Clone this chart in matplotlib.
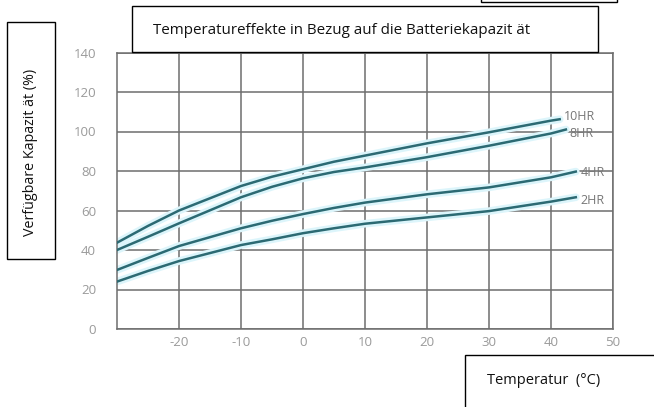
import matplotlib
matplotlib.use('Agg')
import matplotlib.pyplot as plt
from matplotlib.patches import Rectangle

# ── Data ────────────────────────────────────────────────────────────────
temps = [-30, -25, -20, -10, -5, 0, 5, 10, 20, 30, 40]

cap_10hr = [43.7, 52.2, 60.0, 72.4, 77.1, 80.9, 84.7, 87.8, 94.0, 99.6, 105.5]
cap_8hr  = [40.0, 46.7, 53.5, 66.7, 72.0, 76.3, 79.5, 81.8, 87.0, 92.8, 99.0]
cap_4hr  = [29.9, 36.0, 42.0, 51.0, 54.8, 58.2, 61.3, 64.0, 68.2, 71.7, 76.8]
cap_2hr  = [24.0, 29.4, 34.4, 42.5, 45.4, 48.5, 51.0, 53.3, 56.5, 59.7, 64.5]

# last segment of each curve runs a bit past 40 °C
end_temp = [41.4, 42.4, 44.0, 44.0]
end_cap  = [106.2, 101.0, 79.7, 66.7]

series_names = ['10HR', '8HR', '4HR', '2HR']
label_pos = [(42.1, 107.8), (43.0, 99.0), (44.8, 79.0), (44.7, 65.3)]

xticks = [-20, -10, 0, 10, 20, 30, 40, 50]
yticks = [0, 20, 40, 60, 80, 100, 120, 140]

title = 'Temperatureffekte in Bezug auf die Batteriekapazit ät'
ylabel = 'Verfügbare Kapazit ät (%)'
xlabel = 'Temperatur  (°C)'

# ── Figure ──────────────────────────────────────────────────────────────
W, H = 654, 407
plt.rcParams['font.family'] = ['Open Sans', 'DejaVu Sans']
plt.rcParams['axes.unicode_minus'] = False
fig = plt.figure(figsize=(W / 100, H / 100), dpi=100)
ax = fig.add_axes([117 / W, 1 - 329 / H, (613 - 117) / W, (329 - 52.5) / H])

grid_col = '#6e6e6e'
line_col = '#2c6a73'
glow_col = '#dcf5fb'

all_series = [cap_10hr, cap_8hr, cap_4hr, cap_2hr]
for vals, xe, ye in zip(all_series, end_temp, end_cap):
    ax.plot(temps + [xe], vals + [ye], color=glow_col, lw=5.5,
            solid_capstyle='round', solid_joinstyle='round', zorder=2)
for vals, xe, ye in zip(all_series, end_temp, end_cap):
    ax.plot(temps + [xe], vals + [ye], color=line_col, lw=1.8,
            solid_joinstyle='round', zorder=4)

for name, (lx, ly) in zip(series_names, label_pos):
    ax.text(lx, ly, name, color='#777777', fontsize=9, va='center', ha='left',
            zorder=5)

ax.set_xlim(-30, 50)
ax.set_ylim(0, 140)
ax.set_xticks(xticks)
ax.set_yticks(yticks)
ax.grid(True, color=grid_col, lw=1.1, zorder=1)
for s in ax.spines.values():
    s.set_color(grid_col)
    s.set_linewidth(1.1)
ax.tick_params(length=0, colors='#9a9a9a', labelsize=9.5)
ax.tick_params(axis='y', pad=15)
ax.tick_params(axis='x', pad=5)
ax.set_axisbelow(True)


def box(x0, y0, x1, y1):
    # pixel box (top-left origin) drawn on the figure
    fig.patches.append(Rectangle((x0 / W, 1 - y1 / H), (x1 - x0) / W, (y1 - y0) / H,
                                 transform=fig.transFigure, facecolor='white',
                                 edgecolor='black', lw=1.0, zorder=10))


box(481, -10, 617, 1.5)
box(132, 6, 598, 52)
box(7, 22, 55, 259)
box(465, 355, 660, 420)

fig.text(153 / W, 1 - 31 / H, title, fontsize=10.9, color='#111111',
         ha='left', va='center', zorder=11)
fig.text(31 / W, 1 - 152 / H, ylabel, fontsize=10.3, color='#111111', rotation=90,
         ha='center', va='center', zorder=11)
fig.text(487 / W, 1 - 380 / H, xlabel, fontsize=10.5, color='#111111',
         ha='left', va='center', zorder=11)

fig.savefig('out.png', dpi=100)
